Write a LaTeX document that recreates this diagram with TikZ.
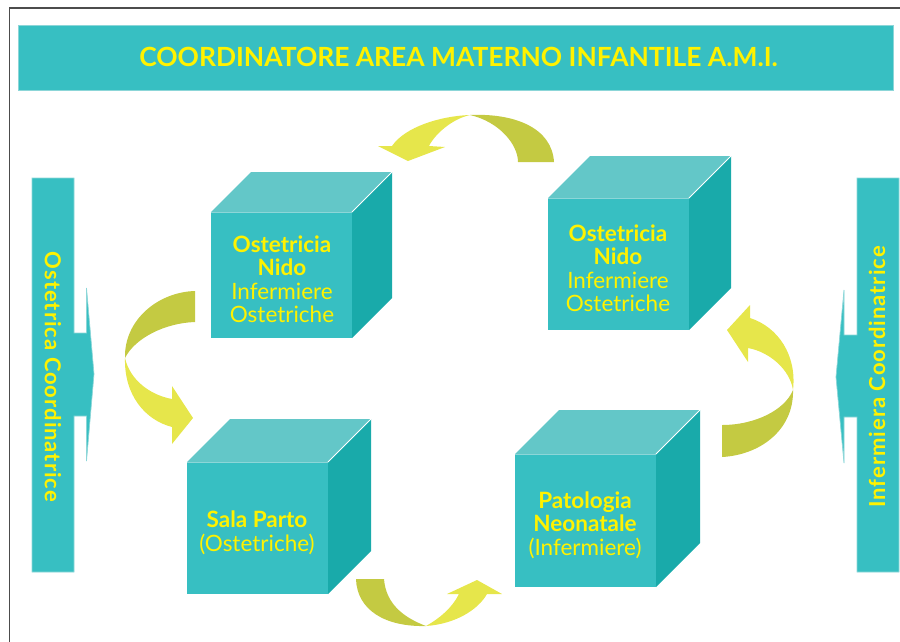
\documentclass[tikz,border=0pt]{standalone}
\usepackage{fontspec}
\setmainfont{Lato}
\newfontfamily\spaziato[LetterSpace=4.5]{Lato}
\definecolor{ottanio}{RGB}{55,191,194}
\definecolor{ottaniochiaro}{RGB}{99,199,200}
\definecolor{ottanioscuro}{RGB}{25,170,170}
\definecolor{bordochiaro}{RGB}{140,214,216}
\definecolor{giallo}{RGB}{255,242,0}
\definecolor{freccia}{RGB}{230,230,75}
\definecolor{coda}{RGB}{196,202,66}
\tikzset{
  testo/.style={text=giallo, font=\fontsize{22.5}{23.5}\selectfont, align=center},
  laterale/.style={text=giallo, font=\spaziato\bfseries\fontsize{22}{26}\selectfont},
  fascia/.style={fill=ottanio, draw=bordochiaro, line width=0.7pt},
}
\begin{document}
\begin{tikzpicture}[x=1pt,y=-1pt]
  \useasboundingbox (0,0) rectangle (900,641);
  \clip (0,0) rectangle (900,641);
  \draw[black!70, line width=1.3pt] (9.5,8) rectangle (920,660);

  % titolo
  \path[fascia] (18,25) rectangle (893,90);
  \node[text=giallo, font=\bfseries\fontsize{26.4}{30}\selectfont] (titolo) at (458.5,57) {COORDINATORE AREA MATERNO INFANTILE A.M.I.};

  % fasce laterali con punta
  \path[fascia] (32,178) -- (74,178) -- (74,333) -- (86.5,333) -- (86.5,288) -- (94,374) -- (86.5,461) -- (86.5,416) -- (74,416) -- (74,572) -- (32,572) -- cycle;
  \path[fascia] (899,178) -- (857,178) -- (857,335) -- (844,335) -- (844,290) -- (836,377) -- (844,463) -- (844,417) -- (857,417) -- (857,572) -- (899,572) -- cycle;
  \node[laterale, rotate=-90] (ostetrica) at (53,377) {Ostetrica Coordinatrice};
  \node[laterale, rotate=90] (infermiera) at (877,377) {Infermiera Coordinatrice};

  % frecce
  \fill[coda] (470,115) .. controls (515,113) and (552,128) .. (554,162) -- (518,162) .. controls (518,145) and (500,122) .. cycle;
  \fill[freccia] (470,115) .. controls (440,116) and (405,127) .. (392,146) -- (378,146) -- (408,161) -- (445,147) -- (429,146) .. controls (435,134) and (452,119) .. cycle;

  \fill[coda] (195,291) .. controls (158,292) and (124,320) .. (125,358) .. controls (135,338) and (165,323) .. (195,322) -- cycle;
  \fill[freccia] (125,358) .. controls (124,395) and (145,420) .. (172,427) -- (172,444) -- (193,418) -- (172,386) -- (172,399) .. controls (150,395) and (130,380) .. cycle;

  \fill[coda] (722,457) .. controls (760,455) and (794,430) .. (793,390) .. controls (785,410) and (755,425) .. (722,425) -- cycle;
  \fill[freccia] (793,390) .. controls (797,355) and (778,327) .. (750,318) -- (750,305) -- (727,330) -- (748,362) -- (748,348) .. controls (770,352) and (790,370) .. cycle;

  \fill[coda] (356,579) .. controls (357,610) and (385,627) .. (426,626) .. controls (405,618) and (386,605) .. (384,579) -- cycle;
  \fill[freccia] (426,626) .. controls (455,624) and (478,610) .. (487,594) -- (502,594) -- (477,580) -- (447,594) -- (459,594) .. controls (452,608) and (440,618) .. cycle;

  % cubi
  \foreach \x/\y/\h/\d in {211/212/126/40, 548/198/132/42, 187/462/132/43, 515/454/133/44}{
    \fill[ottanio] (\x,\y) rectangle ++(141,\h);
    \fill[ottaniochiaro] (\x,\y) -- ++(\d,-\d) -- ++(141,0) -- ++(-\d,\d) -- cycle;
    \fill[ottanioscuro] (\x+141,\y) -- ++(\d,-\d) -- ++(0,\h) -- ++(-\d,\d) -- cycle;
    \draw[white, line width=0.8pt] (\x+141,\y) -- ++(\d,-\d);
    \draw[bordochiaro, line width=0.5pt] (\x,\y) -- ++(141,0);
  }
  \node[testo] (nido1) at (282,279) {\textbf{Ostetricia}\\\textbf{Nido}\\Infermiere\\Ostetriche};
  \node[testo] (nido2) at (618,268) {\textbf{Ostetricia}\\\textbf{Nido}\\Infermiere\\Ostetriche};
  \node[testo] (parto) at (257,533) {\textbf{Sala Parto}\\(Ostetriche)};
  \node[testo] (patologia) at (585,525) {\textbf{Patologia}\\\textbf{Neonatale}\\(Infermiere)};
\end{tikzpicture}
\end{document}
